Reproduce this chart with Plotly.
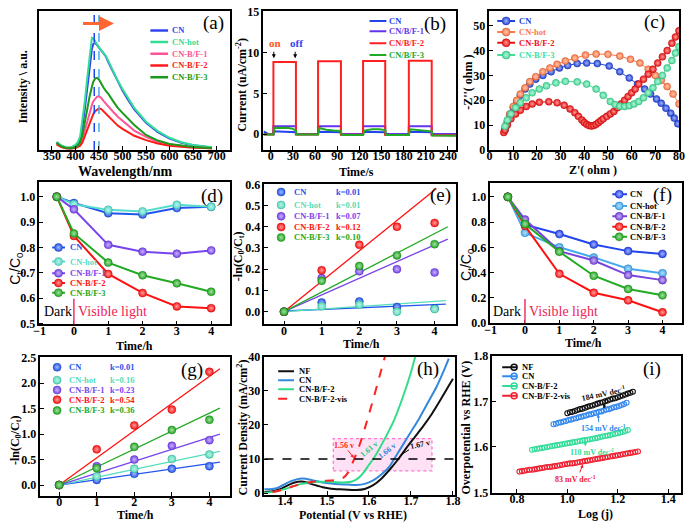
import plotly.graph_objects as go

W, H = 692, 530
SERIF = "Liberation Serif"
SANS = "Liberation Sans"

# ---------------- (a) PL spectra ----------------
pl_names = ["CN", "CN-hot", "CN-B/F-1", "CN-B/F-2", "CN-B/F-3"]
pl_colors = ["#3344ee", "#33dd99", "#ff5599", "#ff1a1a", "#1a9a1a"]
pl_wavelength = [360, 365, 370, 380, 390, 400, 405, 410, 415, 420, 425, 430, 435, 438, 442, 446, 450,
                 455, 460, 465, 470, 480, 490, 500, 510, 525, 550, 575, 600, 625, 650, 675, 690]
pl_cn = [55, 38, 22, 8, 6, 25, 45, 85, 200, 360, 550, 750, 900, 945, 955, 935, 910, 885, 860, 830,
         780, 690, 600, 525, 455, 355, 235, 150, 92, 55, 32, 18, 12]
pl_cn_hot = [64, 45, 30, 15, 14, 35, 60, 110, 255, 430, 635, 840, 1000, 995, 965, 940, 915, 890, 865, 835,
             790, 700, 615, 540, 470, 370, 245, 160, 100, 60, 35, 20, 14]
pl_bf1 = [45, 30, 18, 6, 4, 10, 20, 40, 90, 165, 250, 330, 395, 430, 455, 470, 473, 458, 430, 405,
          385, 335, 290, 254, 220, 165, 108, 65, 41, 26, 16, 10, 6]
pl_bf2 = [40, 28, 16, 5, 3, 8, 15, 28, 60, 115, 175, 235, 285, 315, 340, 357, 365, 358, 338, 315,
          295, 250, 210, 181, 155, 118, 79, 48, 29, 18, 11, 7, 4]
pl_bf3 = [55, 38, 22, 8, 5, 15, 30, 60, 130, 240, 360, 470, 560, 605, 635, 640, 625, 585, 550, 520,
          495, 430, 370, 325, 280, 215, 125, 75, 45, 28, 17, 10, 7]
pl_series = [pl_cn, pl_cn_hot, pl_bf1, pl_bf2, pl_bf3]
pl_peak_lines = [440, 450]
pl_peak_colors = ["#2244ee", "#44aaee"]
pl_shift_arrow = [413, 482, 1130]

# ---------------- (b) photocurrent ----------------
pc_names = ["CN", "CN/B/F-1", "CN/B/F-2", "CN/B/F-3"]
pc_colors = ["#2244ee", "#6633ee", "#ff2020", "#22aa22"]
pc_cn_t = [-10, -6, -3, 3.5, 3.5, 34, 34, 64, 64, 95, 95, 125, 125, 155, 155, 187, 187, 218, 218, 251]
pc_cn_i = [0.35, 0.1, 0.0, 0.0, 0.35, 0.25, 0.0, 0.0, 0.3, 0.25, 0.0, 0.0, 0.3, 0.25, 0.0, 0.0, 0.3, 0.25, 0.0, 0.0]
pc_sq_t = [-10, 3.5, 3.5, 34, 34, 64, 64, 95, 95, 125, 125, 155, 155, 187, 187, 218, 218, 251]
pc_bf1_i = [0.02, 0.02, 0.98, 0.98, 0.02, 0.02, 0.98, 0.98, 0.02, 0.02, 0.97, 0.97, 0.02, 0.02, 0.97, 0.97, 0.02, 0.02]
pc_bf2_i = [-0.05, -0.05, 8.85, 8.85, -0.05, -0.05, 8.92, 8.92, -0.08, -0.08, 8.96, 8.96, -0.1, -0.1, 9.0, 9.0, -0.12, -0.12]
pc_bf3_t = [-10, 3.5, 5, 12, 22, 30, 34, 35, 64, 66, 75, 85, 95, 96, 125, 127, 137, 147, 155, 156,
            187, 189, 198, 208, 218, 219, 251]
pc_bf3_i = [-0.05, -0.05, 0.75, 0.8, 0.8, 0.65, 0.45, -0.05, -0.05, 0.75, 0.55, 0.45, 0.4, -0.1,
            -0.1, 0.45, 0.6, 0.6, 0.5, -0.1, -0.1, 0.6, 0.5, 0.45, 0.35, -0.15, -0.2]
pc_on_off = [("on", 4.0, "#ff5522"), ("off", 33.0, "#3344ee")]

# ---------------- (c) Nyquist ----------------
eis_names = ["CN", "CN-hot", "CN-B/F-2", "CN-B/F-3"]
eis_colors = ["#2244dd", "#ff7744", "#ee1111", "#44dd99"]
eis_cn_x = [6.5, 7.5, 8.5, 10, 11.5, 13, 15, 17, 19.5, 22.5, 26, 29.5, 33, 37, 41, 45.5, 50.5, 55, 59, 62.5,
            65.5, 68, 70.5, 72.5, 74.5, 76.5, 78, 79.5]
eis_cn_y = [8, 11, 14, 17, 19.5, 22, 24.5, 26.5, 28.5, 30, 31.5, 33, 34, 34.8, 35, 34.8, 33.8, 31.5, 29, 26.5,
            24.5, 22.5, 20.5, 18.8, 16.8, 14.8, 12.8, 10.5]
eis_hot_x = [6.5, 7.5, 8.5, 10, 11.5, 13, 15, 17, 19.5, 22.5, 25.5, 28.5, 32, 36, 40.5, 45, 50, 55, 59.5, 63.5,
             67, 70, 72.5, 75, 77.5, 80]
eis_hot_y = [8.5, 11.5, 14.5, 17.5, 20, 22.5, 25, 27.5, 29.5, 31.5, 33, 34.5, 35.8, 37, 38.2, 38.6, 38.5, 37.8,
             36.5, 35, 32.5, 30, 28, 25.5, 22.5, 18.5]
eis_bf2_x = [6, 6.5, 7.5, 9, 11, 13, 15.5, 18, 21, 25, 28.5, 31.5, 34, 36, 37.5, 39, 40, 41, 42, 43,
             44, 45, 46, 47, 48, 49.5, 51, 52.5, 54, 55.5, 57, 58.5, 60, 61.5, 63, 65, 67, 69, 71, 73,
             75, 77, 78.5, 80]
eis_bf2_y = [7, 8, 10, 12.5, 14.5, 16, 17.5, 18.5, 19.2, 19.4, 19, 18, 16.5, 15, 13.5, 12, 11, 10.3, 9.8, 9.6,
             9.8, 10.3, 11, 11.8, 12.5, 13.5, 14.5, 15.5, 17, 18.5, 20, 21.5, 23, 24.5, 26.5, 28.5, 30.5,
             32.5, 35, 37.5, 40, 43, 45.5, 48]
eis_bf3_x = [6.5, 7.5, 9, 11, 13, 15.5, 18, 21, 24, 28, 32, 37, 41, 45, 48, 51, 53, 55, 57, 59,
             61, 63, 65, 67, 69, 71, 73, 75, 77, 78.5, 80]
eis_bf3_y = [9.5, 12, 14.5, 17, 19, 21, 23, 24.5, 25.8, 27, 27.6, 27.4, 26.5, 24.5, 22, 19.5, 18.3, 17.6,
             17.5, 17.8, 18.5, 19.5, 21, 23, 25, 27.5, 30, 33, 36, 39, 41.5]
eis_series = [(eis_cn_x, eis_cn_y), (eis_hot_x, eis_hot_y), (eis_bf2_x, eis_bf2_y), (eis_bf3_x, eis_bf3_y)]

# ---------------- (d)-(g) degradation ----------------
deg_names = ["CN", "CN-hot", "CN-B/F-1", "CN-B/F-2", "CN-B/F-3"]
d_colors = ["#2255ee", "#55ddcc", "#7744ee", "#ff1111", "#22aa22"]
e_colors = ["#2255ee", "#55ddbb", "#7744ee", "#ff1111", "#22aa22"]
f_colors = ["#2244ee", "#44aaee", "#7744dd", "#ff1111", "#22aa22"]
time_ct = [-0.5, 0, 1, 2, 3, 4]
time_k = [0, 1, 2, 3, 4]
light_on_time = 0

d_cn = [1.0, 0.975, 0.935, 0.93, 0.955, 0.96]
d_hot = [1.0, 0.97, 0.948, 0.942, 0.968, 0.96]
d_bf1 = [1.0, 0.95, 0.81, 0.783, 0.775, 0.788]
d_bf2 = [1.0, 0.845, 0.695, 0.62, 0.567, 0.56]
d_bf3 = [1.0, 0.855, 0.74, 0.69, 0.658, 0.625]
d_series = [d_cn, d_hot, d_bf1, d_bf2, d_bf3]

e_cn = [0, 0.043, 0.048, 0.022, 0.015]
e_hot = [0, 0.025, 0.033, 0.0, 0.012]
e_bf1 = [0, 0.158, 0.19, 0.2, 0.185]
e_bf2 = [0, 0.195, 0.315, 0.40, 0.418]
e_bf3 = [0, 0.145, 0.215, 0.265, 0.318]
e_series = [e_cn, e_hot, e_bf1, e_bf2, e_bf3]
e_k = ["0.01", "0.01", "0.07", "0.12", "0.10"]
e_fit_x1 = [4.3, 4.3, 4.35, 4.05, 4.35]
e_fit_y0 = [0.003, 0.0, 0.0, 0.0, 0.0]
e_fit_y1 = [0.035, 0.052, 0.342, 0.58, 0.40]

f_cn = [1.0, 0.78, 0.705, 0.623, 0.57, 0.548]
f_hot = [1.0, 0.715, 0.6, 0.52, 0.43, 0.395]
f_bf1 = [1.0, 0.82, 0.57, 0.495, 0.38, 0.34]
f_bf2 = [1.0, 0.77, 0.39, 0.24, 0.18, 0.085]
f_bf3 = [1.0, 0.785, 0.565, 0.375, 0.27, 0.22]
f_series = [f_cn, f_hot, f_bf1, f_bf2, f_bf3]

g_cn = [0, 0.1, 0.22, 0.32, 0.37]
g_hot = [0, 0.17, 0.32, 0.51, 0.6]
g_bf1 = [0, 0.37, 0.5, 0.77, 0.88]
g_bf2 = [0, 0.7, 1.17, 1.48, 2.22]
g_bf3 = [0, 0.33, 0.75, 1.08, 1.28]
g_series = [g_cn, g_hot, g_bf1, g_bf2, g_bf3]
g_k = ["0.01", "0.16", "0.23", "0.54", "0.36"]
g_fit_x1 = [4.28, 4.28, 4.28, 4.28, 4.28]
g_fit_y1 = [0.45, 0.66, 1.0, 2.28, 1.51]

# ---------------- (h) LSV ----------------
lsv_names = ["NF", "CN", "CN-B/F-2", "CN-B/F-2-vis"]
lsv_colors = ["#111111", "#3388dd", "#33dd88", "#ff2222"]
lsv_nf_v = [1.35, 1.37, 1.39, 1.41, 1.43, 1.44, 1.45, 1.47, 1.49, 1.51, 1.53, 1.55, 1.57, 1.59, 1.61, 1.63,
            1.65, 1.67, 1.69, 1.71, 1.73, 1.75, 1.77, 1.79, 1.80]
lsv_nf_j = [0.3, 0.5, 1.2, 2.5, 3.3, 3.4, 3.2, 2.4, 1.7, 1.3, 1.1, 0.95, 0.9, 1.2, 2.3, 4.3,
            7.0, 10.0, 13.4, 16.6, 19.8, 23.3, 27.3, 31.5, 33.6]
lsv_cn_v = [1.35, 1.37, 1.38, 1.39, 1.41, 1.43, 1.44, 1.45, 1.47, 1.49, 1.51, 1.53, 1.55, 1.57, 1.59, 1.61,
            1.63, 1.65, 1.66, 1.68, 1.70, 1.72, 1.74, 1.76, 1.78, 1.79]
lsv_cn_j = [1.1, 1.2, 1.4, 2.0, 3.3, 4.1, 4.3, 4.2, 3.6, 3.1, 2.8, 2.6, 2.5, 2.4, 2.7, 3.7,
            5.5, 8.0, 10.0, 14.0, 18.0, 22.0, 26.5, 31.0, 36.5, 39.5]
lsv_bf2_v = [1.35, 1.38, 1.40, 1.42, 1.44, 1.46, 1.48, 1.50, 1.52, 1.54, 1.56, 1.57, 1.58, 1.59, 1.60, 1.61,
             1.62, 1.64, 1.66, 1.68, 1.70, 1.71]
lsv_bf2_j = [0.1, 0.5, 1.2, 2.0, 2.7, 3.1, 3.3, 3.3, 3.2, 3.1, 3.4, 4.0, 5.0, 6.5, 8.3, 10.0,
             12.0, 16.5, 21.5, 28.0, 35.5, 40.0]
lsv_vis_v = [1.37, 1.39, 1.41, 1.43, 1.45, 1.47, 1.49, 1.51, 1.53, 1.54, 1.55, 1.56, 1.57, 1.58, 1.59, 1.60,
             1.61, 1.62, 1.63, 1.64]
lsv_vis_j = [0.3, 0.8, 1.6, 2.4, 3.0, 3.4, 3.6, 3.7, 4.0, 4.6, 6.0, 8.6, 11.6, 15.0, 19.0, 23.2,
             27.5, 32.0, 36.5, 41.0]
lsv_series = [(lsv_nf_v, lsv_nf_j), (lsv_cn_v, lsv_cn_j), (lsv_bf2_v, lsv_bf2_j), (lsv_vis_v, lsv_vis_j)]
lsv_ref_j = 10
lsv_box = [1.515, 1.75, 6.5, 16]

# ---------------- (i) Tafel ----------------
tafel_names = ["NF", "CN", "CN-B/F-2", "CN-B/F-2-vis"]
tafel_colors = ["#111111", "#3388ee", "#33dd99", "#ee2233"]
tafel_nf_x = [1.00, 1.01, 1.02, 1.03, 1.04, 1.05, 1.06, 1.07, 1.08, 1.09, 1.10, 1.11, 1.12, 1.13, 1.14,
              1.15, 1.16, 1.17, 1.18, 1.19, 1.20, 1.21, 1.22, 1.23, 1.24, 1.25, 1.26]
tafel_nf_y = [1.674, 1.676, 1.677, 1.679, 1.681, 1.683, 1.684, 1.686, 1.688, 1.690, 1.691, 1.693, 1.695,
              1.697, 1.698, 1.700, 1.702, 1.704, 1.706, 1.707, 1.709, 1.711, 1.713, 1.715, 1.717, 1.719, 1.721]
tafel_cn_x = [0.945, 0.955, 0.965, 0.975, 0.985, 0.995, 1.005, 1.015, 1.025, 1.035, 1.045, 1.055, 1.065,
              1.075, 1.085, 1.095, 1.105, 1.115, 1.125, 1.135, 1.145, 1.155, 1.165, 1.175, 1.185, 1.195,
              1.205, 1.215, 1.225, 1.235]
tafel_cn_y = [1.650, 1.651, 1.653, 1.654, 1.656, 1.657, 1.659, 1.660, 1.662, 1.663, 1.665, 1.666, 1.668,
              1.669, 1.671, 1.672, 1.674, 1.675, 1.677, 1.678, 1.680, 1.682, 1.683, 1.685, 1.687, 1.688,
              1.690, 1.692, 1.694, 1.697]
tafel_bf2_x = [0.86, 0.87, 0.88, 0.89, 0.90, 0.91, 0.92, 0.93, 0.94, 0.95, 0.96, 0.97, 0.98, 0.99, 1.00,
               1.01, 1.02, 1.03, 1.04, 1.05, 1.06, 1.07, 1.08, 1.09, 1.10, 1.11, 1.12, 1.13, 1.14, 1.15,
               1.16, 1.17, 1.18, 1.19, 1.20, 1.21, 1.22, 1.23, 1.24]
tafel_bf2_y = [1.594, 1.595, 1.596, 1.597, 1.598, 1.599, 1.600, 1.601, 1.602, 1.603, 1.604, 1.605, 1.606,
               1.607, 1.608, 1.609, 1.610, 1.611, 1.612, 1.613, 1.614, 1.615, 1.616, 1.617, 1.618, 1.619,
               1.620, 1.622, 1.623, 1.624, 1.625, 1.626, 1.628, 1.629, 1.630, 1.632, 1.633, 1.635, 1.637]
tafel_vis_x = [0.81, 0.82, 0.83, 0.84, 0.85, 0.86, 0.87, 0.88, 0.89, 0.90, 0.91, 0.92, 0.93, 0.94, 0.95,
               0.96, 0.97, 0.98, 0.99, 1.00, 1.01, 1.02, 1.03, 1.04, 1.05, 1.06, 1.07, 1.08, 1.09, 1.10,
               1.11, 1.12, 1.13, 1.14, 1.15, 1.16, 1.17, 1.18, 1.19, 1.20, 1.21, 1.22, 1.23, 1.24, 1.25,
               1.26, 1.27, 1.28]
tafel_vis_y = [1.546, 1.547, 1.548, 1.549, 1.550, 1.550, 1.551, 1.552, 1.553, 1.554, 1.555, 1.556, 1.556,
               1.557, 1.558, 1.559, 1.560, 1.561, 1.562, 1.563, 1.564, 1.564, 1.565, 1.566, 1.567, 1.568,
               1.569, 1.570, 1.571, 1.572, 1.573, 1.574, 1.575, 1.576, 1.577, 1.578, 1.579, 1.580, 1.581,
               1.582, 1.583, 1.584, 1.585, 1.586, 1.587, 1.588, 1.589, 1.590]
tafel_series = [(tafel_nf_x, tafel_nf_y), (tafel_cn_x, tafel_cn_y), (tafel_bf2_x, tafel_bf2_y),
                (tafel_vis_x, tafel_vis_y)]
tafel_slopes = ["184", "154", "110", "83"]

# ================= layout helpers =================
panel_defs = [
    ("a", (34, 228), (4, 147), [323.5, 728.5], [-11, 1243], dict(tick0=350, dtick=50), None),
    ("b", (262, 458), (4, 147), [-10, 251], [-1.95, 15.1], dict(tick0=0, dtick=30), dict(tick0=0, dtick=5)),
    ("c", (492, 685), (4, 147), [-0.05, 80.05], [-0.1, 56], dict(tick0=0, dtick=10), dict(tick0=0, dtick=10)),
    ("d", (34, 228), (180, 326), [-1.005, 4.55], [0.496, 1.057], dict(tick0=-1, dtick=1), dict(tick0=0.5, dtick=0.1, tickformat=".1f")),
    ("e", (263, 458), (182, 326), [-0.52, 4.57], [-0.06, 0.6005], dict(tick0=0, dtick=1), dict(tick0=0, dtick=0.1, tickformat=".1f")),
    ("f", (493, 688), (181, 325), [-1.005, 4.57], [-0.003, 1.108], dict(tick0=-1, dtick=1), dict(tick0=0, dtick=0.2, tickformat=".1f")),
    ("g", (35, 228), (360, 502), [-0.5, 4.55], [-0.21, 2.502], dict(tick0=0, dtick=1), dict(tick0=0, dtick=0.5, tickformat=".1f")),
    ("h", (263, 457), (359, 501), [1.351, 1.805], [-0.5, 40.1], dict(tick0=1.4, dtick=0.1, tickformat=".1f"), dict(tick0=0, dtick=10)),
    ("i", (495, 687), (358, 499), [0.703, 1.451], [1.4995, 1.8005], dict(tick0=0.8, dtick=0.2, tickformat=".1f"), dict(tick0=1.5, dtick=0.1, tickformat=".1f")),
]

fig = go.Figure()
P = {}
common = dict(showline=True, linecolor="black", linewidth=1.5, mirror=True, ticks="inside", ticklen=4,
              tickwidth=1.2, tickcolor="black", showgrid=False, zeroline=False,
              tickfont=dict(family=SERIF, size=12, color="black", weight="bold"))
lay = {}
for n, (key, (x0, x1), (y0, y1), xr, yr, xt, yt) in enumerate(panel_defs, start=1):
    sfx = "" if n == 1 else str(n)
    xa, ya = "x" + sfx, "y" + sfx
    P[key] = dict(xa=xa, ya=ya, xr=xr, yr=yr)
    lay["xaxis" + sfx] = dict(domain=[x0 / W, x1 / W], range=xr, anchor=ya, tickmode="linear",
                              ticklabelstandoff=-6, **xt, **common)
    ydict = dict(domain=[1 - y1 / H, 1 - y0 / H], range=yr, anchor=xa, **common)
    if yt is None:
        ydict.update(showticklabels=False, ticks="")
    else:
        ydict.update(tickmode="linear", **yt)
    lay["yaxis" + sfx] = ydict
fig.update_layout(**lay)


def tint(c, f):
    r, g, b = int(c[1:3], 16), int(c[3:5], 16), int(c[5:7], 16)
    return "rgb(%d,%d,%d)" % (r + (255 - r) * f, g + (255 - g) * f, b + (255 - b) * f)


def shade(c, f):
    r, g, b = int(c[1:3], 16), int(c[3:5], 16), int(c[5:7], 16)
    return "rgb(%d,%d,%d)" % (r * f, g * f, b * f)


def ball(c, size=8):
    return dict(symbol="circle", size=size, color=c, gradient=dict(type="radial", color=tint(c, 0.6)),
                line=dict(width=0.5, color=shade(c, 0.75)))


def add(key, **kw):
    fig.add_trace(go.Scatter(xaxis=P[key]["xa"], yaxis=P[key]["ya"], showlegend=False,
                             hoverinfo="skip", **kw))


def fx2x(key, f):
    r = P[key]["xr"]
    return r[0] + f * (r[1] - r[0])


def fy2y(key, f):
    r = P[key]["yr"]
    return r[0] + f * (r[1] - r[0])


def dom_text(key, text, fx, fy, size=8.5, color="black", anchor="left"):
    fig.add_annotation(xref=P[key]["xa"] + " domain", yref=P[key]["ya"] + " domain", x=fx, y=fy,
                       text=text, showarrow=False, xanchor=anchor, yanchor="middle",
                       font=dict(family=SERIF, size=size, color=color, weight="bold"))


def px_text(text, px, py, size=12, color="black", angle=0, weight="bold", family=SERIF):
    fig.add_annotation(xref="paper", yref="paper", x=px / W, y=1 - py / H, text=text, showarrow=False,
                       xanchor="center", yanchor="middle", textangle=angle,
                       font=dict(family=family, size=size, color=color, weight=weight))


def legend(key, names, colors, fys, text_fx, line_fx=None, marker_fx=None, marker="ball",
           text_colored=True, dashes=None, width=2, extra=None, extra_fx=None):
    for i, (nm, c, fy) in enumerate(zip(names, colors, fys)):
        y = fy2y(key, fy)
        if line_fx:
            add(key, x=[fx2x(key, line_fx[0]), fx2x(key, line_fx[1])], y=[y, y], mode="lines",
                line=dict(color=c, width=width, dash=(dashes[i] if dashes else "solid")), cliponaxis=False)
        if marker_fx is not None:
            mk = ball(c, 8) if marker == "ball" else dict(symbol="circle-open", size=6, color=c, line=dict(width=1.5, color=c))
            add(key, x=[fx2x(key, marker_fx)], y=[y], mode="markers", marker=mk, cliponaxis=False)
        dom_text(key, nm, text_fx, fy, color=(c if text_colored else "black"))
        if extra:
            dom_text(key, "k=" + extra[i], extra_fx, fy, color=c)


# ================= (a) =================
for s, c in zip(pl_series, pl_colors):
    add("a", x=pl_wavelength, y=s, mode="lines", line=dict(color=c, width=2))
for wl, c in zip(pl_peak_lines, pl_peak_colors):
    add("a", x=[wl, wl], y=P["a"]["yr"], mode="lines", line=dict(color=c, width=1.5, dash="dash"))
fig.add_annotation(xref="x", yref="y", axref="x", ayref="y", x=pl_shift_arrow[1], y=pl_shift_arrow[2],
                   ax=pl_shift_arrow[0], ay=pl_shift_arrow[2], text="", showarrow=True, arrowhead=2,
                   arrowsize=1.0, arrowwidth=3, arrowcolor="#ff6633")
legend("a", pl_names, pl_colors, [0.86, 0.776, 0.692, 0.608, 0.524], 0.686, line_fx=(0.582, 0.675), width=2.5)

# ================= (b) =================
pc_data = [(pc_cn_t, pc_cn_i), (pc_sq_t, pc_bf1_i), (pc_sq_t, pc_bf2_i), (pc_bf3_t, pc_bf3_i)]
for (t, i), c in zip(pc_data, pc_colors):
    add("b", x=t, y=i, mode="lines", line=dict(color=c, width=2))
for txt, t, c in pc_on_off:
    fig.add_annotation(xref=P["b"]["xa"], yref=P["b"]["ya"], x=t, y=9.3, ax=0, ay=-8, text="",
                       showarrow=True, arrowhead=2, arrowsize=0.8, arrowwidth=1, arrowcolor="black")
    fig.add_annotation(xref=P["b"]["xa"], yref=P["b"]["ya"], x=t + 1.5, y=11.2, text=txt, showarrow=False,
                       font=dict(family=SERIF, size=11, color=c, weight="bold"))
legend("b", pc_names, pc_colors, [0.928, 0.853, 0.767, 0.683], 0.643, line_fx=(0.551, 0.638))

# ================= (c) =================
for (x, y), c in zip(eis_series, eis_colors):
    add("c", x=x, y=y, mode="lines+markers", line=dict(color=c, width=1), marker=ball(c, 7))
legend("c", eis_names, eis_colors, [0.928, 0.848, 0.771, 0.683], 0.145, line_fx=(0.041, 0.135), marker_fx=0.088)

# ================= (d) =================
for s, c in zip(d_series, d_colors):
    add("d", x=time_ct, y=s, mode="lines+markers", line=dict(color=c, width=2), marker=ball(c, 8))
legend("d", deg_names, d_colors, [0.541, 0.442, 0.360, 0.291, 0.223], 0.15, line_fx=(0.067, 0.134), marker_fx=0.10)
fig.add_shape(type="line", xref=P["d"]["xa"], yref=P["d"]["ya"], x0=light_on_time, x1=light_on_time,
              y0=P["d"]["yr"][0], y1=0.597, line=dict(color="#ee3366", width=1.5))
px_text("Dark", 53, 313, size=14, weight="normal")
px_text("Visible light", 108, 313, size=14, color="#ee2255", weight="normal")

# ================= (e) =================
for k in range(5):
    add("e", x=[0, e_fit_x1[k]], y=[e_fit_y0[k], e_fit_y1[k]], mode="lines", line=dict(color=e_colors[k], width=1.3))
for s, c in zip(e_series, e_colors):
    add("e", x=time_k, y=s, mode="markers", marker=ball(c, 8))
legend("e", deg_names, e_colors, [0.944, 0.852, 0.771, 0.694, 0.620], 0.144, marker_fx=0.087,
       extra=e_k, extra_fx=0.364)

# ================= (f) =================
for s, c in zip(f_series, f_colors):
    add("f", x=time_ct, y=s, mode="lines+markers", line=dict(color=c, width=2), marker=ball(c, 8))
legend("f", deg_names, f_colors, [0.922, 0.838, 0.764, 0.690, 0.618], 0.718, line_fx=(0.636, 0.713),
       marker_fx=0.672, text_colored=False)
fig.add_shape(type="line", xref=P["f"]["xa"], yref=P["f"]["ya"], x0=light_on_time, x1=light_on_time,
              y0=P["f"]["yr"][0], y1=0.19, line=dict(color="#ee3366", width=1.5))
px_text("Dark", 510, 313, size=14, weight="normal")
px_text("Visible light", 567, 313, size=14, color="#ee2255", weight="normal")

# ================= (g) =================
for k in range(5):
    add("g", x=[0, g_fit_x1[k]], y=[0, g_fit_y1[k]], mode="lines", line=dict(color=e_colors[k], width=1.3))
for s, c in zip(g_series, e_colors):
    add("g", x=time_k, y=s, mode="markers", marker=ball(c, 8))
legend("g", deg_names, e_colors, [0.93, 0.836, 0.765, 0.695, 0.617], 0.14, marker_fx=0.088,
       extra=g_k, extra_fx=0.355)

# ================= (h) =================
fig.add_shape(type="rect", xref=P["h"]["xa"], yref=P["h"]["ya"], x0=lsv_box[0], x1=lsv_box[1],
              y0=lsv_box[2], y1=lsv_box[3], fillcolor="rgba(255,170,225,0.35)",
              line=dict(color="#ff77cc", width=1.3, dash="dot"), layer="below")
fig.add_shape(type="line", xref=P["h"]["xa"] + " domain", yref=P["h"]["ya"], x0=0, x1=1,
              y0=lsv_ref_j, y1=lsv_ref_j, line=dict(color="black", width=1.3, dash="dash"))
for k, ((v, j), c) in enumerate(zip(lsv_series, lsv_colors)):
    add("h", x=v, y=j, mode="lines", line=dict(color=c, width=2, dash=("dash" if k == 3 else "solid"),
                                                 shape="spline", smoothing=0.6))
legend("h", lsv_names, lsv_colors, [0.894, 0.829, 0.763, 0.695], 0.17, line_fx=(0.072, 0.155),
       text_colored=False, dashes=["solid", "solid", "solid", "dash"])
hx, hy = P["h"]["xa"], P["h"]["ya"]
fig.add_annotation(xref=hx, yref=hy, axref=hx, ayref=hy, x=1.564, y=10.3, ax=1.547, ay=13.0, text="",
                   showarrow=True, arrowhead=2, arrowsize=0.7, arrowwidth=1, arrowcolor="#ff2222")
fig.add_annotation(xref=hx, yref=hy, axref=hx, ayref=hy, x=1.676, y=11.2, ax=1.699, ay=13.0, text="",
                   showarrow=True, arrowhead=0, arrowwidth=1, arrowcolor="black")
for txt, x, y, ang, c in [("1.56 v", 1.541, 14.1, 0, "#ff2222"), ("1.61 v", 1.599, 12.9, -40, "#22cc77"),
                          ("1.66 v", 1.644, 12.5, -38, "#3388dd"), ("1.67 v", 1.722, 14.4, -12, "#111111")]:
    fig.add_annotation(xref=hx, yref=hy, x=x, y=y, text=txt, showarrow=False, textangle=ang,
                       font=dict(family=SERIF, size=8, color=c, weight="bold"))

# ================= (i) =================
for (x, y), c in zip(tafel_series, tafel_colors):
    add("i", x=x, y=y, mode="markers", marker=dict(symbol="circle-open", size=5, color=c, line=dict(width=1.1, color=c)))
legend("i", tafel_names, tafel_colors, [0.915, 0.849, 0.778, 0.707], 0.146, line_fx=(0.052, 0.13),
       marker_fx=0.115, marker="open", text_colored=False)
ix, iy = P["i"]["xa"], P["i"]["ya"]
tafel_labels = [(1.144, 1.719, -12, 1.157, 1.711, 1.144, 1.684),
                (1.144, 1.642, 0, 1.125, 1.651, 1.122, 1.672),
                (1.099, 1.589, 0, 1.073, 1.599, 1.070, 1.613),
                (1.034, 1.530, 0, 1.047, 1.541, 1.062, 1.562)]
for s, c, (tx, ty, ang, ax0, ay0, ax1, ay1) in zip(tafel_slopes, tafel_colors, tafel_labels):
    fig.add_annotation(xref=ix, yref=iy, x=tx, y=ty, text=s + " mV dec<sup>-1</sup>", showarrow=False,
                       textangle=ang, font=dict(family=SERIF, size=8, color=c, weight="bold"))
    fig.add_annotation(xref=ix, yref=iy, axref=ix, ayref=iy, x=ax1, y=ay1, ax=ax0, ay=ay0, text="",
                       showarrow=True, arrowhead=2, arrowsize=0.7, arrowwidth=1, arrowcolor=c)

# ================= titles & panel labels =================
x_titles = [("Wavelength/nm", 121, 169, 14), ("Time/s", 357, 169, 12), ("Z'( ohm )", 597, 167, 12),
            ("Time/h", 131, 348, 12), ("Time/h", 362, 346, 12), ("Time/h", 588, 345, 12),
            ("Time/h", 132, 522, 12), ("Potential (V vs RHE)", 353, 522, 12), ("Log (j)", 600, 521, 12)]
for t, x, y, s in x_titles:
    px_text(t, x, y, size=s)
y_titles = [("Intensity \\ a.u.", 17, 82, 12, SERIF, "bold"),
            ("Current (uA/cm<sup>-2</sup>)", 240, 80, 12, SERIF, "bold"),
            ("-Z''( ohm )", 470, 77, 12, SERIF, "bold"),
            ("C<sub>t</sub>/C<sub>0</sub>", 10, 268, 14, SANS, "normal"),
            ("-ln(C<sub>0</sub>/C<sub>t</sub>)", 237, 256, 12, SERIF, "bold"),
            ("C<sub>t</sub>/C<sub>0</sub>", 469, 264, 14, SANS, "normal"),
            ("-ln(C<sub>0</sub>/C<sub>t</sub>)", 10, 445, 12, SERIF, "bold"),
            ("Current Density (mA/cm<sup>2</sup>)", 241, 432, 12, SERIF, "bold"),
            ("Overpotential vs RHE (V)", 468, 432, 12, SERIF, "bold")]
for t, x, y, s, fam, wt in y_titles:
    px_text(t, x, y, size=s, angle=-90, family=fam, weight=wt)
panel_labels = [("(a)", 211, 16), ("(b)", 437, 17), ("(c)", 660, 15), ("(d)", 210, 194), ("(e)", 442, 193),
                ("(f)", 668, 193), ("(g)", 189, 373), ("(h)", 429, 372), ("(i)", 657, 372)]
for t, x, y in panel_labels:
    px_text(t, x, y, size=19, weight="normal")

fig.update_layout(width=W, height=H, margin=dict(l=0, r=0, t=0, b=0), paper_bgcolor="white",
                  plot_bgcolor="white", showlegend=False)
fig.write_html("out.html", config={"displayModeBar": False},
               post_script="document.body.style.margin='0px';document.body.style.overflow='hidden';")
